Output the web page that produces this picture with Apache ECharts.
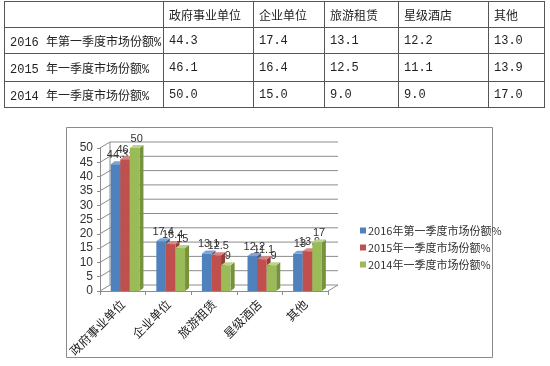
<!DOCTYPE html>
<html><head><meta charset="utf-8">
<script src="https://cdn.jsdelivr.net/npm/echarts@6/dist/echarts.min.js"></script>
<style>
html,body{margin:0;padding:0;background:#fff;width:550px;height:366px;overflow:hidden;}
#chart{position:absolute;left:0;top:0;width:550px;height:366px;}
#tbl{position:absolute;left:4px;top:1px;border-collapse:collapse;table-layout:fixed;font-family:"Liberation Mono","Noto Sans CJK SC",monospace;font-size:12px;color:#222;}
#tbl td{border:1px solid #555;padding:0 0 0 5px;white-space:nowrap;overflow:hidden;}
</style></head>
<body>
<div id="chart"></div>
<table id="tbl"></table>
<script>
const categories = ['政府事业单位', '企业单位', '旅游租赁', '星级酒店', '其他'];
const seriesNames = ['2016年第一季度市场份额%', '2015年一季度市场份额%', '2014年一季度市场份额%'];
const tableRowLabels = ['2016 年第一季度市场份额%', '2015 年一季度市场份额%', '2014 年一季度市场份额%'];
const values2016 = [44.3, 17.4, 13.1, 12.2, 13.0];
const values2015 = [46.1, 16.4, 12.5, 11.1, 13.9];
const values2014 = [50.0, 15.0, 9.0, 9.0, 17.0];
const yTicks = [0, 5, 10, 15, 20, 25, 30, 35, 40, 45, 50];

const allValues = [values2016, values2015, values2014];
const colors = ['#4F81BD', '#C0504D', '#9BBB59'];
const sideColors = ['#3A6396', '#963C3A', '#76923C'];
const topColors = ['#7FA3D3', '#D98583', '#BBD48A'];

// ---- table ----
const colW = [159, 90, 71, 74, 90, 56];
const rowH = [26, 26, 28, 26];
const tbl = document.getElementById('tbl');
const cg = document.createElement('colgroup');
colW.forEach(w => { const c = document.createElement('col'); c.style.width = w + 'px'; cg.appendChild(c); });
tbl.appendChild(cg);
const hr = document.createElement('tr'); hr.style.height = rowH[0] + 'px';
hr.appendChild(document.createElement('td'));
categories.forEach(c => { const td = document.createElement('td'); td.textContent = c; td.style.fontFamily = '"Noto Sans CJK SC"'; hr.appendChild(td); });
tbl.appendChild(hr);
tableRowLabels.forEach((lab, r) => {
  const tr = document.createElement('tr'); tr.style.height = rowH[r + 1] + 'px';
  const td0 = document.createElement('td'); td0.textContent = lab; tr.appendChild(td0);
  allValues[r].forEach(v => { const td = document.createElement('td'); td.textContent = v.toFixed(1); tr.appendChild(td); });
  tbl.appendChild(tr);
});

// ---- chart ----
const DX = 10, DY = -6;      // wall depth
const BDX = 4, BDY = -3;     // bar depth
const chart = echarts.init(document.getElementById('chart'), null, { renderer: 'canvas' });

function barSeries(k) {
  return {
    name: seriesNames[k], type: 'custom', itemStyle: { color: colors[k] },
    data: allValues[k].map((v, i) => [i, v]),
    renderItem: function (params, api) {
      const i = api.value(0), v = api.value(1);
      const top = api.coord([i, v]);
      const base = api.coord([i, 0]);
      const band = api.size([1, 0])[0];
      const bw = band * 0.21;
      const x0 = top[0] - 1.5 * bw + k * bw + band * 0.05;
      const yt = top[1], yb = base[1];
      return {
        type: 'group', children: [
          { type: 'polygon', shape: { points: [[x0 + bw, yt], [x0 + bw + BDX, yt + BDY], [x0 + bw + BDX, yb + BDY], [x0 + bw, yb]] }, style: { fill: sideColors[k] } },
          { type: 'polygon', shape: { points: [[x0, yt], [x0 + BDX, yt + BDY], [x0 + bw + BDX, yt + BDY], [x0 + bw, yt]] }, style: { fill: topColors[k] } },
          { type: 'rect', shape: { x: x0, y: yt, width: bw, height: yb - yt }, style: { fill: colors[k] } },
          { type: 'text', style: { text: String(v), x: x0 + bw / 2 + 2, y: yt + BDY - 1, align: 'center', verticalAlign: 'bottom', fontSize: 11, fill: '#333', fontFamily: 'Liberation Sans' } }
        ]
      };
    }
  };
}

const wallSeries = {
  name: 'wall', type: 'custom', silent: true, z: 1,
  data: yTicks.map(t => [0, t]),
  renderItem: function (params, api) {
    const cs = params.coordSys;
    const y = api.coord([0, api.value(1)])[1];
    const x0 = cs.x, x1 = cs.x + cs.width;
    const children = [
      { type: 'line', shape: { x1: x0 + DX, y1: y + DY, x2: x1 + DX, y2: y + DY }, style: { stroke: '#8c8c8c', lineWidth: 1 } },
      { type: 'line', shape: { x1: x0, y1: y, x2: x0 + DX, y2: y + DY }, style: { stroke: '#8c8c8c', lineWidth: 1 } }
    ];
    if (params.dataIndex === 0) {
      const yTop = api.coord([0, yTicks[yTicks.length - 1]])[1];
      children.push({ type: 'line', shape: { x1: x0 + DX, y1: y + DY, x2: x0 + DX, y2: yTop + DY }, style: { stroke: '#8c8c8c', lineWidth: 1 } });
      children.push({ type: 'line', shape: { x1: x1, y1: y, x2: x1 + DX, y2: y + DY }, style: { stroke: '#8c8c8c', lineWidth: 1 } });
    }
    return { type: 'group', children: children };
  }
};

chart.setOption({
  animation: false,
  color: colors,
  textStyle: { fontFamily: 'Liberation Sans' },
  graphic: [{ type: 'rect', shape: { x: 66.5, y: 127.5, width: 426, height: 230 }, style: { fill: 'none', stroke: '#8a8a8a', lineWidth: 1 }, z: 0 }],
  legend: {
    orient: 'vertical', left: 355, top: 220, itemWidth: 6, itemHeight: 6, itemGap: 6, icon: 'rect',
    data: seriesNames,
    textStyle: { fontSize: 11, color: '#333', fontFamily: '"Noto Sans CJK SC"', padding: [0, 0, 0, -3] }
  },
  grid: { left: 100, right: 222, top: 148, bottom: 75 },
  xAxis: {
    type: 'category', data: categories,
    axisLine: { lineStyle: { color: '#8c8c8c' } },
    axisTick: { show: true, length: 4, lineStyle: { color: '#8c8c8c' } },
    axisLabel: { rotate: 45, fontSize: 12, color: '#222', margin: 11, fontFamily: '"Noto Sans CJK SC"' }
  },
  yAxis: {
    type: 'value', min: 0, max: 50, interval: 5,
    axisLine: { show: true, lineStyle: { color: '#8c8c8c' } },
    axisTick: { show: true, length: 3, lineStyle: { color: '#8c8c8c' } },
    splitLine: { show: false },
    axisLabel: { fontSize: 12, color: '#333', margin: 7 }
  },
  series: [wallSeries, barSeries(0), barSeries(1), barSeries(2)]
});
</script>
</body></html>
